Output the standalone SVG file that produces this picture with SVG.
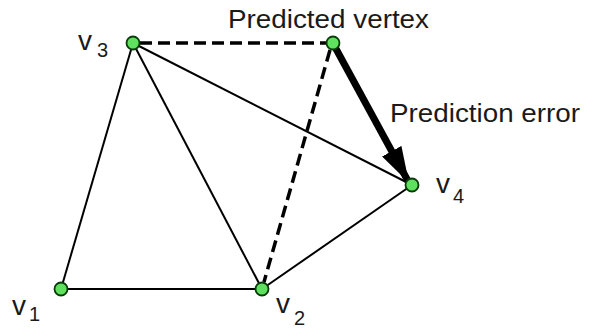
<svg xmlns="http://www.w3.org/2000/svg" width="592" height="333" viewBox="0 0 592 333">
<style>
.edge{stroke:#000;stroke-width:2;fill:none}
.dash{stroke:#000;stroke-width:3.5;fill:none;stroke-dasharray:12 6}
.node{fill:#5fe05f;stroke:#0a3a0a;stroke-width:1.8}
text{font-family:"Liberation Sans",Arial,sans-serif;fill:#1a1a1a}
.v{font-size:28px}
.s{font-size:20px}
.lbl{font-size:25px}
</style>
<defs>
<marker id="ah" markerUnits="userSpaceOnUse" markerWidth="36" markerHeight="22" refX="34" refY="11" orient="auto">
<path d="M0,0 L36,11 L0,22 Z" fill="#000"/>
</marker>
</defs>
<rect width="592" height="333" fill="#fff"/>
<g id="connectors">
<line class="edge" x1="133" y1="43" x2="61" y2="289"/>
<line class="edge" x1="133" y1="43" x2="262" y2="289"/>
<line class="edge" x1="133" y1="43" x2="412" y2="185"/>
<line class="edge" x1="61" y1="289" x2="262" y2="289"/>
<line class="edge" x1="262" y1="289" x2="412" y2="185"/>
<line class="dash" x1="140" y1="43" x2="327" y2="43"/>
<line class="dash" x1="330" y1="50" x2="264" y2="282"/>
<line id="prediction-error" x1="335" y1="47" x2="408" y2="181" stroke="#000" stroke-width="7" marker-end="url(#ah)"/>
</g>
<g id="v1"><circle class="node" cx="61" cy="289" r="6.5"/><text class="v" x="12" y="315">v</text><text class="s" x="29" y="321">1</text></g>
<g id="v2"><circle class="node" cx="262" cy="289" r="6.5"/><text class="v" x="276" y="313">v</text><text class="s" x="294" y="325">2</text></g>
<g id="v3"><circle class="node" cx="133" cy="43" r="6.5"/><text class="v" x="78" y="50">v</text><text class="s" x="97" y="57">3</text></g>
<g id="v4"><circle class="node" cx="412" cy="185" r="6.5"/><text class="v" x="436" y="193">v</text><text class="s" x="453" y="203">4</text></g>
<g id="predicted"><circle class="node" cx="333" cy="43" r="6.5"/><text class="lbl" x="228" y="28" textLength="201" lengthAdjust="spacingAndGlyphs">Predicted vertex</text></g>
<g id="error-label"><text class="lbl" x="390" y="122" textLength="190" lengthAdjust="spacingAndGlyphs">Prediction error</text></g>
</svg>
